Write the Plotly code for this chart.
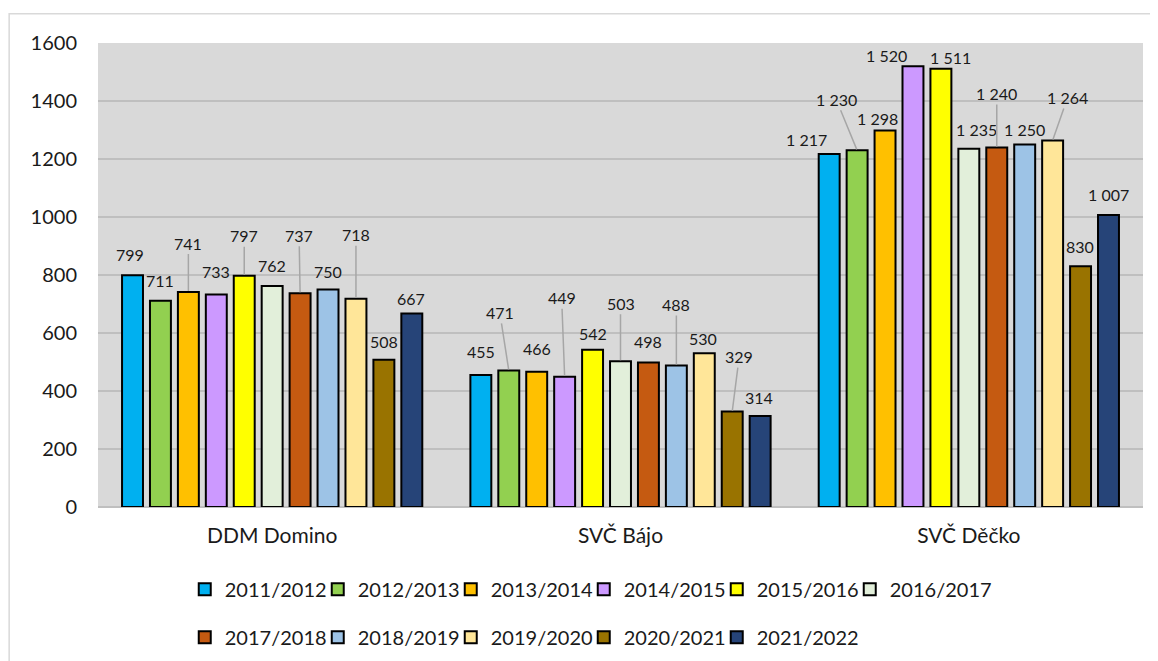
import plotly.graph_objects as go

# ---------------- data ----------------
categories = ["DDM Domino", "SVČ Bájo", "SVČ Děčko"]
years = ["2011/2012", "2012/2013", "2013/2014", "2014/2015", "2015/2016", "2016/2017",
         "2017/2018", "2018/2019", "2019/2020", "2020/2021", "2021/2022"]

v_2011_2012 = [799, 455, 1217]
v_2012_2013 = [711, 471, 1230]
v_2013_2014 = [741, 466, 1298]
v_2014_2015 = [733, 449, 1520]
v_2015_2016 = [797, 542, 1511]
v_2016_2017 = [762, 503, 1235]
v_2017_2018 = [737, 498, 1240]
v_2018_2019 = [750, 488, 1250]
v_2019_2020 = [718, 530, 1264]
v_2020_2021 = [508, 329, 830]
v_2021_2022 = [667, 314, 1007]

series = [v_2011_2012, v_2012_2013, v_2013_2014, v_2014_2015, v_2015_2016, v_2016_2017,
          v_2017_2018, v_2018_2019, v_2019_2020, v_2020_2021, v_2021_2022]

y_ticks = [0, 200, 400, 600, 800, 1000, 1200, 1400, 1600]

# ---------------- styles ----------------
colors = ["#00b0f0", "#92d050", "#ffc000", "#cc99ff", "#ffff00", "#e2efda",
          "#c55a11", "#9dc3e6", "#ffe699", "#997300", "#264478"]

# label placement (pixel offset of label centre from bar top, leader line flag)
label_pos = [
    [(-3, -21, False), (0, -20, False), (0, -49, True), (0, -23, False), (0, -40, True),
     (0, -21, False), (-1, -58, True), (0, -18, False), (0, -64, True), (0, -18, False), (-1, -15, False)],
    [(0, -24, False), (-9, -58, True), (0, -23, False), (-3, -79, True), (0, -16, False),
     (0, -58, True), (0, -21, False), (0, -61, True), (-1, -15, False), (7, -55, True), (-1, -18, False)],
    [(-23, -15, False), (-21, -51, True), (-8, -12, False), (-26, -11, False), (10, -11, False),
     (8, -19, False), (0, -54, True), (0, -15, False), (15, -43, True), (-1, -20, False), (0, -20, False)],
]

FONT = "Lato"
TXT = "#1a1a1a"
BARGAP = 0.118
BARGROUPGAP = 0.25

fig = go.Figure()
n = len(years)
for i, (yr, vals, col) in enumerate(zip(years, series, colors)):
    fig.add_trace(go.Bar(
        name=yr, x=categories, y=vals,
        marker=dict(color=col, line=dict(color="#000000", width=2)),
        legend="legend" if i < 6 else "legend2",
        hoverinfo="name+y",
    ))

# invisible spacer entries so the last legend text of each row is not clipped
for lg in ["legend", "legend2"]:
    fig.add_trace(go.Scatter(
        x=[None], y=[None], mode="markers", name=" ", legend=lg,
        marker=dict(color="rgba(0,0,0,0)", size=1), hoverinfo="skip", showlegend=True))

def fmt(v):
    return f"{v:,}".replace(",", " ")

annotations = []
slot = (1 - BARGAP) / n
for ci, cat in enumerate(categories):
    for i in range(n):
        v = series[i][ci]
        dx, dy, leader = label_pos[ci][i]
        xc = ci + (i - (n - 1) / 2) * slot
        if leader:
            annotations.append(dict(
                x=xc, y=v, xref="x", yref="y", text=fmt(v), showarrow=True,
                ax=dx, ay=dy, arrowhead=0, arrowwidth=1.5, arrowcolor="#a6a6a6",
                standoff=1, font=dict(family=FONT, size=16, color=TXT)))
        else:
            annotations.append(dict(
                x=xc, y=v, xref="x", yref="y", text=fmt(v), showarrow=False,
                xshift=dx, yshift=-dy, xanchor="center", yanchor="middle",
                font=dict(family=FONT, size=16, color=TXT)))

OFF = 8  # page body margin
W, H = 1158 - OFF, 661 - OFF
L, R, T, B = 98.3 - OFF, 15.3, 42.7 - OFF, 154.3
pw = W - L - R
ph = H - T - B

def px_x(p):
    return (p - OFF - L) / pw

def px_y(p):
    return (H - B - (p - OFF)) / ph

fig.update_layout(
    width=W, height=H,
    margin=dict(l=L, r=R, t=T, b=B, autoexpand=False),
    paper_bgcolor="#ffffff", plot_bgcolor="#d9d9d9",
    barmode="group", bargap=BARGAP, bargroupgap=BARGROUPGAP,
    font=dict(family=FONT, color=TXT),
    showlegend=True,
    legend=dict(orientation="h", x=px_x(185), xanchor="left", y=px_y(589), yanchor="middle",
                font=dict(family=FONT, size=20, color=TXT), entrywidth=88,
                bgcolor="rgba(0,0,0,0)", itemclick=False, itemdoubleclick=False),
    legend2=dict(orientation="h", x=px_x(185), xanchor="left", y=px_y(637), yanchor="middle",
                 font=dict(family=FONT, size=20, color=TXT), entrywidth=88,
                 bgcolor="rgba(0,0,0,0)", itemclick=False, itemdoubleclick=False),
    xaxis=dict(type="category", showgrid=False, showline=False, ticks="",
               tickfont=dict(family=FONT, size=21, color=TXT), ticklabelstandoff=14),
    yaxis=dict(range=[0, 1600], tickvals=y_ticks, tickformat="d", showgrid=True,
               gridcolor="#bfbfbf", gridwidth=2, zeroline=True, zerolinecolor="#bfbfbf",
               zerolinewidth=2, showline=False, ticks="",
               tickfont=dict(family=FONT, size=20, color=TXT), ticklabelstandoff=20),
    annotations=annotations,
    shapes=[dict(type="rect", xref="paper", yref="paper",
                 x0=px_x(9.5), x1=px_x(1200), y0=px_y(700), y1=px_y(13.5),
                 line=dict(color="#d9d9d9", width=1.5), fillcolor="rgba(0,0,0,0)", layer="below")],
)

fig.write_html("out.html")
